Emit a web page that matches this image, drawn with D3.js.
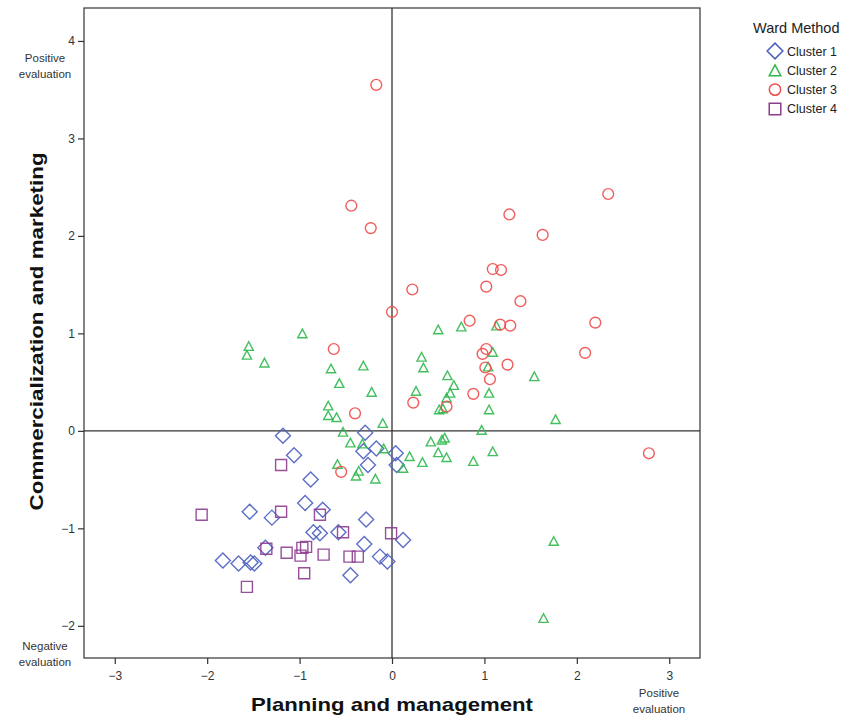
<!DOCTYPE html>
<html><head><meta charset="utf-8">
<script src="https://cdn.jsdelivr.net/npm/d3@7"></script>
<style>
html,body{margin:0;padding:0;background:#fff;}
svg text{font-family:"Liberation Sans",Arial,sans-serif;}
</style></head>
<body>
<svg id="chart" width="866" height="722"></svg>
<script>
// ---- data ----
const clusterNames = ["Cluster 1","Cluster 2","Cluster 3","Cluster 4"];
const xTicks = [-3,-2,-1,0,1,2,3];
const yTicks = [-2,-1,0,1,2,3,4];
const xTitle = "Planning and management";
const yTitle = "Commercialization and marketing";
const legendTitle = "Ward Method";

const cluster1 = [[-1.18,-0.05],[-1.06,-0.25],[-0.88,-0.50],[-1.54,-0.83],[-1.30,-0.89],[-0.94,-0.74],[-0.75,-0.81],[-0.85,-1.04],[-0.78,-1.05],[-0.58,-1.04],[-0.28,-0.91],[-0.30,-1.16],[-0.45,-1.48],[-0.13,-1.29],[-0.05,-1.34],[0.12,-1.12],[-1.83,-1.33],[-1.66,-1.36],[-1.53,-1.35],[-1.49,-1.36],[-1.37,-1.20],[-0.29,-0.02],[-0.31,-0.21],[-0.17,-0.18],[-0.26,-0.35],[0.04,-0.23],[0.05,-0.35]];
const cluster2 = [[-0.97,1.00],[-1.55,0.87],[-1.57,0.78],[-1.38,0.70],[-0.66,0.64],[-0.31,0.67],[-0.57,0.49],[-0.22,0.40],[-0.69,0.26],[-0.69,0.16],[-0.60,0.14],[-0.10,0.08],[-0.53,-0.01],[-0.45,-0.12],[-0.32,-0.13],[-0.09,-0.18],[-0.59,-0.34],[-0.36,-0.41],[-0.39,-0.46],[-0.18,-0.49],[0.12,-0.38],[0.19,-0.26],[0.33,-0.32],[0.42,-0.11],[0.54,-0.09],[0.57,-0.07],[0.50,-0.22],[0.59,-0.27],[0.88,-0.31],[1.09,-0.21],[0.97,0.01],[1.05,0.22],[1.05,0.39],[1.09,0.81],[1.04,0.66],[1.13,1.08],[0.75,1.07],[0.50,1.04],[0.32,0.76],[0.34,0.65],[0.60,0.57],[0.67,0.47],[0.63,0.39],[0.59,0.34],[0.51,0.22],[0.55,0.23],[0.26,0.41],[1.54,0.56],[1.77,0.12],[1.75,-1.13],[1.64,-1.92]];
const cluster3 = [[-0.17,3.55],[-0.44,2.31],[-0.23,2.08],[2.34,2.43],[1.27,2.22],[1.63,2.01],[1.09,1.66],[1.18,1.65],[1.02,1.48],[0.22,1.45],[1.39,1.33],[0.00,1.22],[2.20,1.11],[0.84,1.13],[1.17,1.09],[1.28,1.08],[2.09,0.80],[1.02,0.84],[0.98,0.79],[1.01,0.65],[1.25,0.68],[1.06,0.53],[0.88,0.38],[-0.63,0.84],[-0.40,0.18],[0.23,0.29],[0.59,0.25],[-0.55,-0.42],[2.78,-0.23]];
const cluster4 = [[-1.20,-0.35],[-2.06,-0.86],[-1.20,-0.83],[-0.78,-0.86],[-0.53,-1.04],[-0.01,-1.05],[-1.36,-1.21],[-1.14,-1.25],[-0.99,-1.28],[-0.97,-1.20],[-0.93,-1.19],[-0.74,-1.27],[-0.46,-1.29],[-0.37,-1.29],[-0.95,-1.46],[-1.57,-1.60]];

// ---- layout ----
const colors = ["#4a5ec0","#2fb84c","#f04a4a","#8d3d8f"];
const shapes = ["diamond","triangle","circle","square"];
const svg = d3.select("#chart");
const L=84, R=700, T=8, B=658;
const x = d3.scaleLinear().domain([-3.333,3.333]).range([L,R]);
const y = d3.scaleLinear().domain([-2.33,4.338]).range([B,T]);

function shapePath(s, k){
  k = k||1;
  if(s==="diamond"){const h=7.5*k;return `M0,${-h}L${h},0L0,${h}L${-h},0Z`;}
  if(s==="triangle"){const w=4.6*k,h=4.3*k;return `M0,${-h}L${w},${h}L${-w},${h}Z`;}
  if(s==="square"){const h=5.5*k;return `M${-h},${-h}H${h}V${h}H${-h}Z`;}
  const r=5.4*k;return `M${r},0A${r},${r} 0 1,1 ${-r},0A${r},${r} 0 1,1 ${r},0Z`;
}

// frame
svg.append("rect").attr("x",L).attr("y",T).attr("width",R-L).attr("height",B-T)
  .attr("fill","none").attr("stroke","#333").attr("stroke-width",1.2);

// axes
const xAxis = d3.axisBottom(x).tickValues(xTicks).tickSize(6).tickFormat(d=>d<0?"\u2212"+Math.abs(d):d);
const gx = svg.append("g").attr("transform",`translate(0,${B})`).call(xAxis);
gx.select(".domain").remove();
gx.selectAll("line").attr("stroke","#333").attr("stroke-width",1.2);
gx.selectAll("text").attr("fill","#333").attr("font-size",12).attr("dy","1.05em");

const yAxis = d3.axisLeft(y).tickValues(yTicks).tickSize(6).tickFormat(d=>d<0?"\u2212"+Math.abs(d):d);
const gy = svg.append("g").attr("transform",`translate(${L},0)`).call(yAxis);
gy.select(".domain").remove();
gy.selectAll("line").attr("stroke","#333").attr("stroke-width",1.2);
gy.selectAll("text").attr("fill","#333").attr("font-size",12).attr("x",-9);

// zero reference lines
svg.append("line").attr("x1",x(0)).attr("x2",x(0)).attr("y1",T).attr("y2",B).attr("stroke","#333").attr("stroke-width",1.3);
svg.append("line").attr("x1",L).attr("x2",R).attr("y1",y(0)).attr("y2",y(0)).attr("stroke","#333").attr("stroke-width",1.3);

// points
const series=[cluster1,cluster2,cluster3,cluster4];
series.forEach((data,i)=>{
  svg.append("g").selectAll("path").data(data).join("path")
    .attr("transform",d=>`translate(${x(d[0])},${y(d[1])})`)
    .attr("d",shapePath(shapes[i]))
    .attr("fill","none").attr("stroke",colors[i]).attr("stroke-width",1.4).attr("stroke-opacity",0.9);
});

// axis titles
svg.append("text").attr("x",x(0)).attr("y",711).attr("text-anchor","middle")
  .attr("font-size",19).attr("font-weight","bold").attr("fill","#111")
  .attr("textLength",282).attr("lengthAdjust","spacingAndGlyphs").text(xTitle);
svg.append("text").attr("transform",`translate(43,${y(1)-2}) rotate(-90)`).attr("text-anchor","middle")
  .attr("font-size",19).attr("font-weight","bold").attr("fill","#111")
  .attr("textLength",358).attr("lengthAdjust","spacingAndGlyphs").text(yTitle);

// evaluation annotations
function note(cx, cy, lines){
  const t=svg.append("text").attr("text-anchor","middle").attr("font-size",11.5).attr("fill","#333");
  lines.forEach((s,j)=>t.append("tspan").attr("x",cx).attr("y",cy+j*16).text(s));
}
note(45,62,["Positive","evaluation"]);
note(45,650,["Negative","evaluation"]);
note(659,697,["Positive","evaluation"]);

// legend
const lg = svg.append("g");
lg.append("text").attr("x",753).attr("y",33).attr("font-size",14.5).attr("fill","#222").text(legendTitle);
clusterNames.forEach((n,i)=>{
  const cy = 51+i*19.3;
  lg.append("path").attr("transform",`translate(775,${cy})`).attr("d",shapePath(shapes[i],i===1?1.25:1.05))
    .attr("fill","none").attr("stroke",colors[i]).attr("stroke-width",1.5);
  lg.append("text").attr("x",787).attr("y",cy+4.5).attr("font-size",12.5).attr("fill","#222").text(n);
});
</script>
</body></html>
